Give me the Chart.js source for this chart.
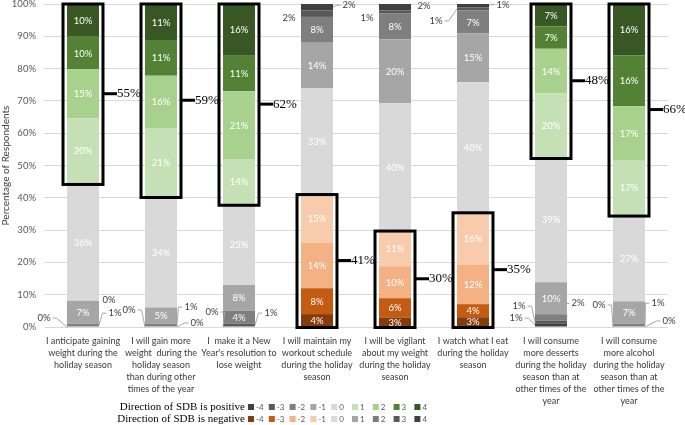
<!DOCTYPE html>
<html><head><meta charset="utf-8">
<script src="https://cdn.jsdelivr.net/npm/chart.js@4"></script>
<style>html,body{margin:0;padding:0;background:#fff}#wrap{width:685px;height:425px;position:relative}</style>
</head><body><div id="wrap"><canvas id="c" width="685" height="425"></canvas></div>
<script>
const categories = [
 ['I anticipate gaining','weight during the','holiday season'],
 ['I will gain more','weight  during the','holiday season','than during other','times of the year'],
 ['I  make it a New',"Year's resolution to",'lose weight'],
 ['I will maintain my','workout schedule','during the holiday','season'],
 ['I will be vigilant','about my weight','during the holiday','season'],
 ['I watch what I eat','during the holiday','season'],
 ['I will consume','more desserts','during the holiday','season than at','other times of the','year'],
 ['I will consume','more alcohol','during the holiday','season than at','other times of the','year']
];
const direction = ['positive','positive','positive','negative','negative','negative','positive','positive'];
const levels = [-4,-3,-2,-1,0,1,2,3,4];
const resp_m4 = [0,0,0,4,3,3,1,0];
const resp_m3 = [0,0,1,8,6,4,1,0];
const resp_m2 = [1,1,4,14,10,12,2,1];
const resp_m1 = [7,5,8,15,11,16,10,7];
const resp_0  = [36,34,25,33,40,40,39,27];
const resp_p1 = [20,21,14,14,20,15,20,17];
const resp_p2 = [15,16,21,8,8,7,14,17];
const resp_p3 = [10,11,11,2,1,1,7,16];
const resp_p4 = [10,11,16,2,2,1,7,16];
const yTicks = [0,10,20,30,40,50,60,70,80,90,100];

const posColors = ['#404040','#595959','#7f7f7f','#a6a6a6','#d9d9d9','#c5e0b4','#a9d18e','#548235','#385723'];
const negColors = ['#843c0c','#c55a11','#f4b183','#f8cbad','#d9d9d9','#a6a6a6','#7f7f7f','#595959','#404040'];

// small-segment callouts (label offset from bar centre / segment middle, in px)
const callouts = [
 {bar:0, level:-4, dx:-39, dy:-9, leader:true},
 {bar:0, level:-3, dx:26, dy:-27, leader:false},
 {bar:0, level:-2, dx:32, dy:-12, leader:true},
 {bar:1, level:-4, dx:-32, dy:-17, leader:true},
 {bar:1, level:-3, dx:36, dy:-4, leader:true},
 {bar:1, level:-2, dx:30, dy:-18, leader:true},
 {bar:2, level:-4, dx:-27, dy:-15, leader:true},
 {bar:2, level:-3, dx:32, dy:-12, leader:true},
 {bar:3, level:3, dx:-28, dy:4, leader:false},
 {bar:3, level:4, dx:32, dy:-2, leader:true},
 {bar:4, level:3, dx:-28, dy:6, leader:false},
 {bar:4, level:4, dx:29, dy:-1, leader:false},
 {bar:5, level:3, dx:-37, dy:12, leader:true},
 {bar:5, level:4, dx:30, dy:-1, leader:true},
 {bar:6, level:-4, dx:-35, dy:-7, leader:true},
 {bar:6, level:-3, dx:-32, dy:-16, leader:true},
 {bar:6, level:-2, dx:27, dy:-14, leader:true},
 {bar:7, level:-4, dx:-30, dy:-22, leader:true},
 {bar:7, level:-3, dx:40, dy:-6, leader:true},
 {bar:7, level:-2, dx:29, dy:-22, leader:true}
];

const series = [resp_m4, resp_m3, resp_m2, resp_m1, resp_0, resp_p1, resp_p2, resp_p3, resp_p4];
const totals = categories.map((_, i) => series.reduce((s, a) => s + a[i], 0));
const datasets = series.map((arr, k) => ({
  label: String(levels[k]),
  data: arr.map((v, i) => v / totals[i] * 100),
  raw: arr,
  backgroundColor: arr.map((_, i) => (direction[i] === 'positive' ? posColors : negColors)[k]),
  borderWidth: 0,
  categoryPercentage: 1,
  barPercentage: 0.41
}));

const FONT = 'Lato, "Open Sans", sans-serif';

const segLabels = {
  id: 'segLabels',
  afterDatasetsDraw(chart) {
    const ctx = chart.ctx;
    ctx.save();
    ctx.font = '9.5px ' + FONT;
    ctx.textAlign = 'center';
    ctx.textBaseline = 'middle';
    chart.data.datasets.forEach((ds, k) => {
      const meta = chart.getDatasetMeta(k);
      meta.data.forEach((el, i) => {
        const v = ds.raw[i];
        if (v < 3) return;
        ctx.fillStyle = '#ffffff';
        ctx.fillText(v + '%', el.x, (el.y + el.base) / 2 + 0.5);
      });
    });
    callouts.forEach(c => {
      const k = levels.indexOf(c.level);
      const el = chart.getDatasetMeta(k).data[c.bar];
      const v = chart.data.datasets[k].raw[c.bar];
      const segY = (el.y + el.base) / 2;
      const lx = el.x + c.dx, ly = segY + c.dy;
      const txt = v + '%';
      const w = ctx.measureText(txt).width;
      if (c.leader) {
        ctx.strokeStyle = '#a6a6a6';
        ctx.lineWidth = 1;
        ctx.beginPath();
        if (c.dx < 0) {
          ctx.moveTo(lx + w / 2 + 2, ly);
          ctx.lineTo(lx + w / 2 + 6, ly);
          ctx.lineTo(el.x - el.width / 2, segY);
        } else {
          ctx.moveTo(lx - w / 2 - 2, ly);
          ctx.lineTo(lx - w / 2 - 6, ly);
          ctx.lineTo(el.x + el.width / 2, segY);
        }
        ctx.stroke();
      }
      ctx.fillStyle = '#404040';
      ctx.fillText(txt, lx, ly);
    });
    ctx.restore();
  }
};

const boxes = {
  id: 'boxes',
  afterDatasetsDraw(chart) {
    const ctx = chart.ctx;
    ctx.save();
    categories.forEach((_, i) => {
      const idx = direction[i] === 'positive' ? [5, 6, 7, 8] : [0, 1, 2, 3];
      let top = Infinity, bottom = -Infinity, sum = 0, el0;
      idx.forEach(k => {
        const el = chart.getDatasetMeta(k).data[i];
        el0 = el;
        top = Math.min(top, el.y, el.base);
        bottom = Math.max(bottom, el.y, el.base);
        sum += chart.data.datasets[k].raw[i];
      });
      const left = el0.x - el0.width / 2 - 4;
      const right = el0.x + el0.width / 2 + 4;
      ctx.strokeStyle = '#000';
      ctx.lineWidth = 3;
      ctx.strokeRect(left, top, right - left, bottom - top + 1);
      const mid = (top + bottom) / 2;
      ctx.beginPath();
      ctx.moveTo(right, mid);
      ctx.lineTo(right + 14, mid);
      ctx.stroke();
      ctx.fillStyle = '#000';
      ctx.font = '13px "Liberation Serif", "Times New Roman", serif';
      ctx.textAlign = 'left';
      ctx.textBaseline = 'middle';
      ctx.fillText(sum + '%', right + 14, mid);
    });
    ctx.restore();
  }
};

const sdbLegend = {
  id: 'sdbLegend',
  afterDraw(chart) {
    const ctx = chart.ctx;
    ctx.save();
    const rows = [['Direction of SDB is positive', posColors, 407], ['Direction of SDB is negative', negColors, 419]];
    rows.forEach(([title, cols, y]) => {
      ctx.font = '11px "Liberation Serif", "Times New Roman", serif';
      ctx.fillStyle = '#000';
      ctx.textAlign = 'right';
      ctx.textBaseline = 'middle';
      ctx.fillText(title, 245, y);
      levels.forEach((lv, j) => {
        const x = 248 + j * 20.8;
        ctx.fillStyle = cols[j];
        ctx.fillRect(x, y - 3, 6, 6);
        ctx.fillStyle = '#595959';
        ctx.font = '8px ' + FONT;
        ctx.textAlign = 'left';
        ctx.fillText(String(lv), x + 8, y + 0.5);
      });
    });
    ctx.restore();
  }
};

new Chart(document.getElementById('c'), {
  type: 'bar',
  data: { labels: categories, datasets },
  plugins: [segLabels, boxes, sdbLegend],
  options: {
    responsive: false,
    animation: false,
    layout: { padding: { top: 4, right: 17, bottom: 0, left: 0 } },
    plugins: { legend: { display: false }, tooltip: { enabled: false } },
    scales: {
      x: {
        stacked: true,
        grid: { display: false },
        border: { display: false },
        ticks: { font: { size: 9, family: FONT, lineHeight: '12px' }, color: '#3a3a3a', padding: 0, maxRotation: 0, autoSkip: false },
        afterFit(s) { s.height = 98; s.paddingLeft = 0; s.paddingRight = 0; }
      },
      y: {
        stacked: true,
        min: 0, max: 100,
        afterBuildTicks(s) { s.ticks = yTicks.map(v => ({ value: v })); },
        ticks: { callback: v => v + '%', font: { size: 9.5, family: FONT }, color: '#595959', padding: 8 },
        grid: { color: '#d9d9d9', drawTicks: false },
        border: { display: false },
        title: { display: true, text: 'Percentage of Respondents', font: { size: 10, family: FONT }, color: '#404040', padding: { top: 0, bottom: 2 } },
        afterFit(s) { s.width = 44; s.paddingTop = 0; s.paddingBottom = 0; }
      }
    }
  }
});
</script></body></html>
